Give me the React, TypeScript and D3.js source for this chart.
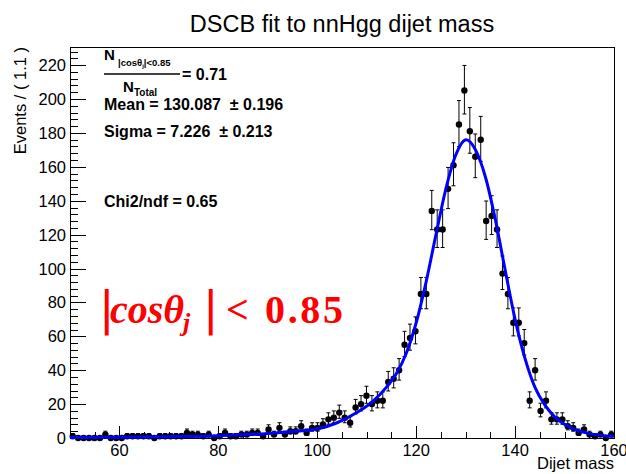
import React, { useEffect, useRef } from 'react';
import * as d3 from 'd3';

// histogram binning: 100 bins of 1.1 from 50 to 160
const binLow = 50;
const binWidth = 1.1;

// events per bin
const eventCounts = [
  1, 0, 0, 0, 0, 0, 2, 0, 0, 0,
  1, 1, 1, 1, 1, 0, 1, 1, 1, 1,
  1, 3, 2, 2, 1, 2, 0, 1, 3, 1,
  1, 2, 2, 3, 3, 1, 5, 2, 6, 2,
  4, 4, 7, 3, 6, 6, 8, 11, 12, 15,
  12, 9, 18, 20, 25, 20, 22, 22, 33, 35,
  40, 55, 59, 63, 85, 85, 134, 123, 123, 147,
  161, 185, 205, 181, 166, 176, 128, 131, 123, 97,
  85, 68, 68, 56, 22, 40, 16, 22, 11, 11,
  11, 7, 6, 3, 5, 2, 1, 2, 0, 2,
];

// DSCB fit curve, sampled from the plot
const fitMass = [50, 60, 70, 80, 90, 95, 100, 104, 108, 111, 114, 116, 118, 120, 122, 124, 126, 128, 130.1, 132, 134, 136, 138, 140, 142, 144, 146, 148, 151, 155, 160];
const fitEvents = [0.3, 0.5, 0.8, 1.4, 2.7, 3.8, 5.3, 9, 15, 21, 30, 38, 50, 68, 92, 120, 147, 167, 176, 170, 154, 129, 99, 70, 47, 30, 19.5, 12.5, 6.5, 2.6, 1];

const xMajorTicks = [60, 80, 100, 120, 140, 160];
const yMajorTicks = [0, 20, 40, 60, 80, 100, 120, 140, 160, 180, 200, 220];

const width = 626;
const height = 474;
const margin = { top: 47, right: 12, bottom: 36, left: 70 };
const font = 'Liberation Sans, Arial, Helvetica, sans-serif';

function DscbPlot() {
  const ref = useRef<SVGSVGElement>(null);

  useEffect(() => {
    const svg = d3.select(ref.current);
    svg.selectAll('*').remove();

    const x = d3.scaleLinear().domain([50, 160]).range([margin.left, width - margin.right]);
    const y = d3.scaleLinear().domain([0, 230.7]).range([height - margin.bottom, margin.top]);
    const x0 = margin.left, x1 = width - margin.right;
    const y0 = height - margin.bottom, y1 = margin.top;

    svg.append('rect').attr('width', width).attr('height', height).attr('fill', 'white');

    // frame
    svg.append('rect')
      .attr('x', x0 + 0.5).attr('y', y1 + 0.5)
      .attr('width', x1 - x0).attr('height', y0 - y1)
      .attr('fill', 'none').attr('stroke', '#000').attr('stroke-width', 1);

    // x ticks
    const xMinor = d3.range(50, 160.01, 5);
    svg.append('g').selectAll('line')
      .data(xMinor)
      .enter().append('line')
        .attr('x1', d => Math.round(x(d)) + 0.5)
        .attr('x2', d => Math.round(x(d)) + 0.5)
        .attr('y1', y0)
        .attr('y2', d => y0 - (xMajorTicks.includes(d) ? 12 : 6))
        .attr('stroke', '#000');
    svg.append('g').selectAll('text')
      .data(xMajorTicks)
      .enter().append('text')
        .attr('x', d => x(d))
        .attr('y', 456)
        .attr('text-anchor', 'middle')
        .style('font-family', font)
        .style('font-size', '16.5px')
        .text(d => d);

    // y ticks
    const yMinor = d3.range(0, 229, 4);
    svg.append('g').selectAll('line')
      .data(yMinor)
      .enter().append('line')
        .attr('x1', x0)
        .attr('x2', d => x0 + (d % 20 === 0 ? 16 : 8))
        .attr('y1', d => Math.round(y(d)) + 0.5)
        .attr('y2', d => Math.round(y(d)) + 0.5)
        .attr('stroke', '#000');
    svg.append('g').selectAll('text')
      .data(yMajorTicks)
      .enter().append('text')
        .attr('x', 66)
        .attr('y', d => y(d) + 6)
        .attr('text-anchor', 'end')
        .style('font-family', font)
        .style('font-size', '16.5px')
        .text(d => d);

    // axis titles
    svg.append('text')
      .attr('transform', `translate(26, ${y1}) rotate(-90)`)
      .attr('text-anchor', 'end')
      .style('font-family', font).style('font-size', '16.5px')
      .text('Events / ( 1.1 )');
    svg.append('text')
      .attr('x', x1).attr('y', 469)
      .attr('text-anchor', 'end')
      .style('font-family', font).style('font-size', '16.5px')
      .text('Dijet mass');

    // title
    svg.append('text')
      .attr('x', (x0 + x1) / 2).attr('y', 32)
      .attr('text-anchor', 'middle')
      .style('font-family', font).style('font-size', '23.5px')
      .text('DSCB fit to nnHgg dijet mass');

    // data with poisson-like error bars
    const pts = eventCounts.map((n, i) => ({
      m: binLow + binWidth * (i + 0.5),
      n,
      hi: n + 0.5 + Math.sqrt(n + 0.25),
      lo: Math.max(0, n + 0.5 - Math.sqrt(n + 0.25)),
    }));
    const g = svg.append('g');
    pts.forEach(p => {
      const cx = x(p.m);
      g.append('line')
        .attr('x1', cx).attr('x2', cx)
        .attr('y1', y(p.lo)).attr('y2', y(p.hi))
        .attr('stroke', '#000').attr('stroke-width', 1);
      [p.lo, p.hi].forEach(v => {
        g.append('line')
          .attr('x1', cx - 2).attr('x2', cx + 2)
          .attr('y1', y(v)).attr('y2', y(v))
          .attr('stroke', '#000').attr('stroke-width', 1);
      });
      g.append('circle').attr('cx', cx).attr('cy', y(p.n)).attr('r', 3.2).attr('fill', '#000');
    });

    // fit curve
    const curve = fitMass.map((m, i) => [m, fitEvents[i]] as [number, number]);
    svg.append('path')
      .datum(curve)
      .attr('d', d3.line<[number, number]>()
        .x(d => x(d[0]))
        .y(d => y(d[1]))
        .curve(d3.curveMonotoneX))
      .attr('fill', 'none')
      .attr('stroke', '#0000ff')
      .attr('stroke-width', 3);
  }, []);

  return (
    <svg ref={ref} width={width} height={height}
      style={{ position: 'absolute', left: 0, top: 0 }} />
  );
}

function Labels() {
  const bold = { fontFamily: font, fontWeight: 700 } as React.CSSProperties;
  const red = '#ff0000';
  const serif = 'Liberation Serif, Times New Roman, serif';
  return (
    <svg width={width} height={height}
      style={{ position: 'absolute', left: 0, top: 0, pointerEvents: 'none' }}>
      {/* fraction */}
      <text x={104} y={60} style={{ ...bold, fontSize: 15 }}>N</text>
      <text x={118} y={66} style={{ ...bold, fontSize: 9.5 }}>
        |cos&#952;<tspan fontSize={6} dy={2}>j</tspan><tspan dy={-2}>|&lt;0.85</tspan>
      </text>
      <line x1={104} x2={180} y1={74} y2={74} stroke="#000" strokeWidth={1.6} />
      <text x={182} y={80} style={{ ...bold, fontSize: 16 }}>= 0.71</text>
      <text x={123} y={92} style={{ ...bold, fontSize: 15 }}>N</text>
      <text x={134} y={96} style={{ ...bold, fontSize: 10 }}>Total</text>

      <text x={104} y={110} style={{ ...bold, fontSize: 16 }} xmlSpace="preserve">Mean = 130.087  ± 0.196</text>
      <text x={104} y={137} style={{ ...bold, fontSize: 16 }} xmlSpace="preserve">Sigma = 7.226  ± 0.213</text>
      <text x={104} y={207} style={{ ...bold, fontSize: 16 }}>Chi2/ndf = 0.65</text>

      {/* cut label */}
      <text x={99} y={324} fill={red} style={{ fontFamily: 'DejaVu Sans', fontSize: 46 }}>|</text>
      <text x={110} y={323} fill={red} style={{ fontFamily: serif, fontSize: 40, fontWeight: 700, fontStyle: 'italic' }}>cos&#952;</text>
      <text x={183} y={331} fill={red} style={{ fontFamily: serif, fontSize: 26, fontWeight: 700, fontStyle: 'italic' }}>j</text>
      <text x={203} y={324} fill={red} style={{ fontFamily: 'DejaVu Sans', fontSize: 46 }}>|</text>
      <text x={226} y={323} fill={red} style={{ fontFamily: serif, fontSize: 40, fontWeight: 700 }}>&lt;</text>
      <text x={265} y={323} fill={red} textLength={78} lengthAdjust="spacing"
        style={{ fontFamily: serif, fontSize: 40, fontWeight: 700 }}>0.85</text>
    </svg>
  );
}

export default function App() {
  return (
    <div style={{ position: 'fixed', left: 0, top: 0, width, height, background: 'white' }}>
      <DscbPlot />
      <Labels />
    </div>
  );
}
